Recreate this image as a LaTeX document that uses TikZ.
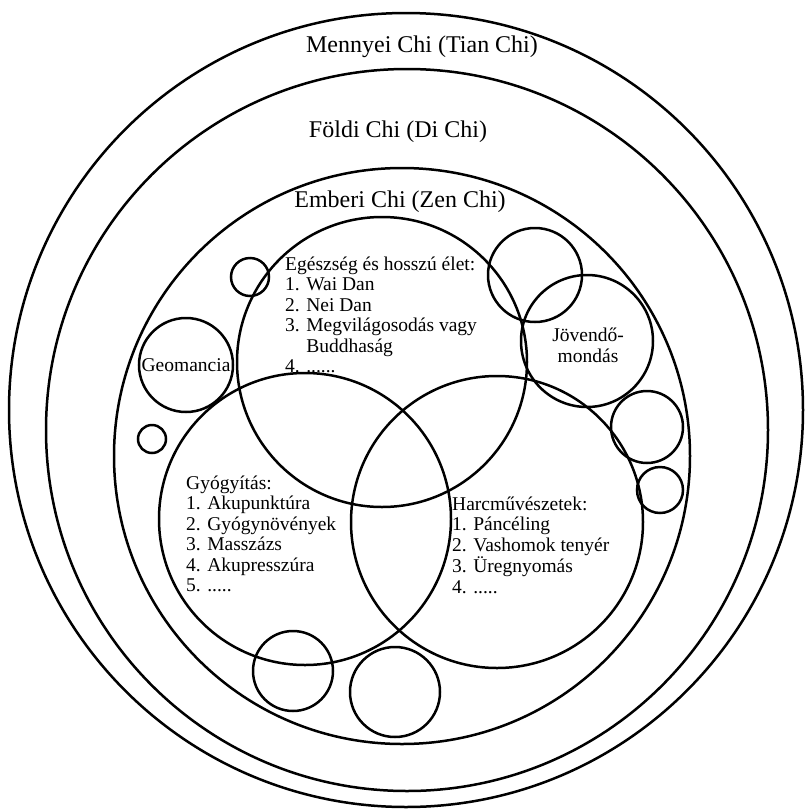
\documentclass[tikz,border=0pt]{standalone}
\usepackage{fontspec}
\setmainfont{Liberation Serif}
\begin{document}
\begin{tikzpicture}[x=1pt,y=-1pt,
  ring/.style={circle, draw, line width=2.5pt, inner sep=0pt, outer sep=0pt},
  big/.style={font=\fontsize{24}{28}\selectfont, inner sep=0pt},
  small/.style={font=\fontsize{19.5}{20.5}\selectfont, inner sep=0pt},
]
\useasboundingbox (0,0) rectangle (810,812);
% concentric circles
\node[ring, minimum size=794pt] (tian) at (406,410) {};
\node[ring, minimum size=722pt] (di) at (407,430) {};
\node[ring, minimum size=576pt] (zen) at (402,456) {};
% Venn circles
\node[ring, minimum size=290pt] (health) at (382,362) {};
\node[ring, minimum size=292pt] (heal) at (305,519) {};
\node[ring, minimum size=292pt] (martial) at (497,522) {};
% other circles
\node[ring, minimum size=94pt] (geo) at (186,365) {};
\node[ring, minimum size=132pt] (fortune) at (587,341) {};
\node[ring, minimum size=94pt] (c1) at (535,275) {};
\node[ring, minimum size=38pt] (c2) at (250,277) {};
\node[ring, minimum size=28pt] (c3) at (152,439) {};
\node[ring, minimum size=72pt] (c4) at (647,427) {};
\node[ring, minimum size=46pt] (c5) at (660,490) {};
\node[ring, minimum size=80pt] (c6) at (293,671) {};
\node[ring, minimum size=90pt] (c7) at (395,692) {};
% labels
\node[big] (tiant) at (422,47) {Mennyei Chi (Tian Chi)};
\node[big] (dit) at (398,132) {Földi Chi (Di Chi)};
\node[big] (zent) at (400,202) {Emberi Chi (Zen Chi)};
\node[small] (geot) at (186,365) {Geomancia};
\node[small] (fortunet) at (588,348) {\begin{tabular}{@{}c@{}}Jövendő-\\mondás\end{tabular}};
\node[small, anchor=base west] (healtht) at (285,270) {\begin{tabular}[t]{@{}l@{}}Egészség és hosszú élet:\\1. Wai Dan\\2. Nei Dan\\3. Megvilágosodás vagy\\\phantom{3. }Buddhaság\\4. ......\end{tabular}};
\node[small, anchor=base west] (healt) at (186,489) {\begin{tabular}[t]{@{}l@{}}Gyógyítás:\\1. Akupunktúra\\2. Gyógynövények\\3. Masszázs\\4. Akupresszúra\\5. .....\end{tabular}};
\node[small, anchor=base west] (martialt) at (452,510) {\begin{tabular}[t]{@{}l@{}}Harcművészetek:\\1. Páncéling\\2. Vashomok tenyér\\3. Üregnyomás\\4. .....\end{tabular}};
\end{tikzpicture}
\end{document}
